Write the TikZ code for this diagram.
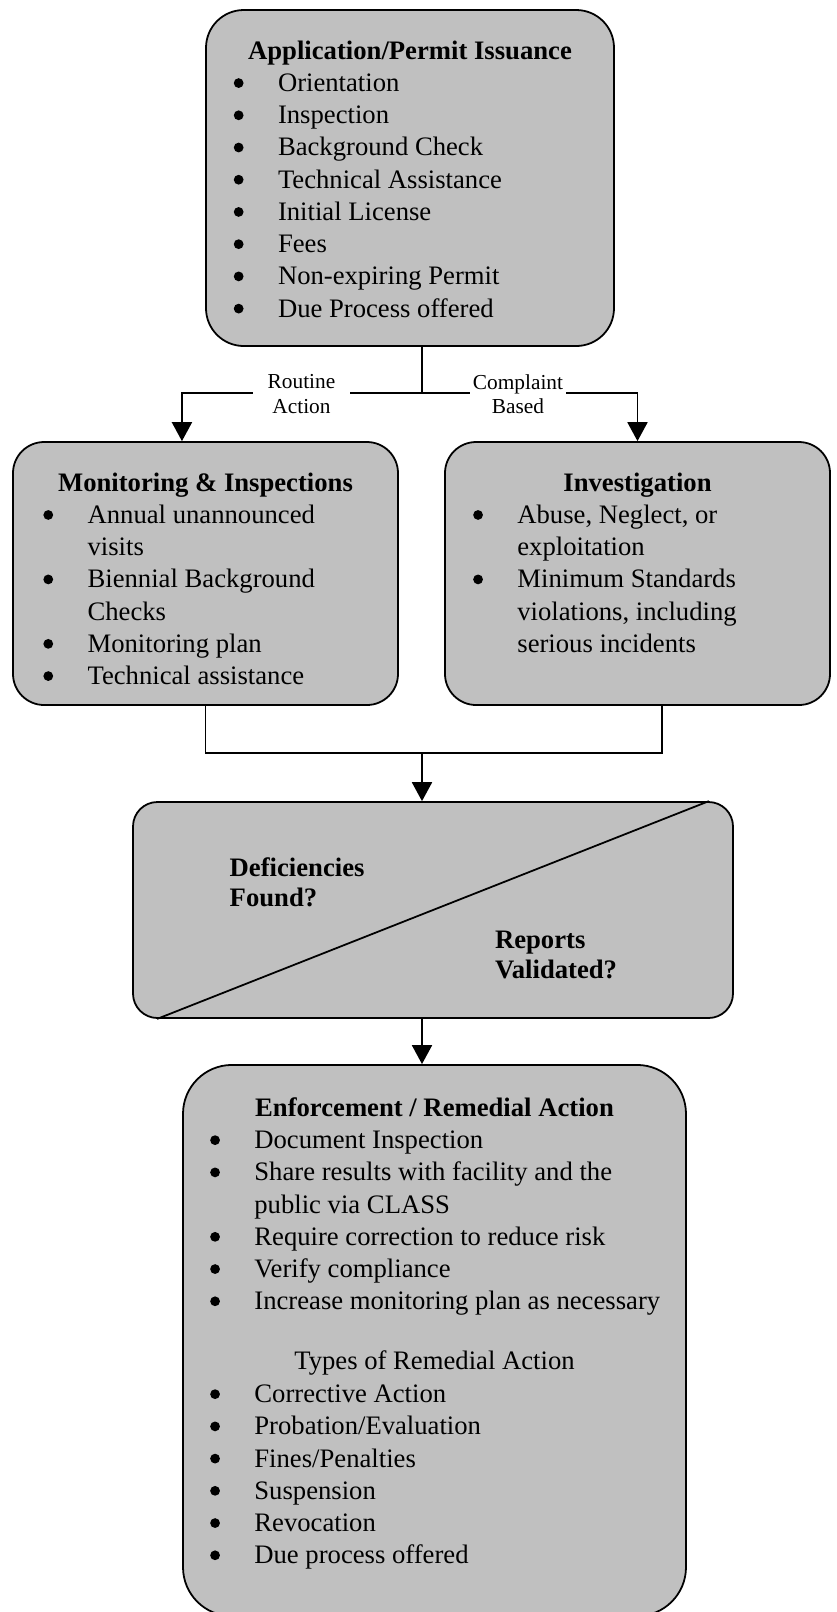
\documentclass[tikz,border=0pt]{standalone}
\usepackage{fontspec}
\setmainfont{Liberation Serif}
\usepackage{tikz}
\usetikzlibrary{positioning, arrows.meta}

\definecolor{boxgray}{RGB}{192,192,192}
\newcommand{\bodysize}{\fontsize{12}{14.5}\selectfont}
\newcommand{\bdot}{\tikz[baseline=-3.8pt]\fill (0,0) circle[radius=2.2pt];}
\newcommand{\checklist}[1]{\begin{tabular}[t]{@{}p{20.5pt}@{}l@{}}#1\end{tabular}}
\newcommand{\bul}{\hspace*{0.6pt}\bdot &}

\begin{document}
\begin{tikzpicture}[
					x=0.45pt, y=-0.45pt,
					box/.style={draw, fill=boxgray, line width=0.8pt, inner sep=0pt},
					head/.style={font=\bodysize\bfseries, anchor=base, inner sep=0pt},
					items/.style={font=\bodysize, anchor=base west, inner sep=0pt},
					tag/.style={fill=white, font=\fontsize{9.6}{11}\selectfont, align=center, minimum width=43.6pt, inner sep=1pt},
					link/.style={line width=0.8pt},
					arr/.style={-{Triangle[length=8.5pt,width=9pt]}}
					]
					\useasboundingbox (0,0) rectangle (837,1612);
					% boxes
					\node[box, rounded corners=17pt, minimum width=183.6pt, minimum height=151.2pt] (app) at (410,178) {};
					\node[box, rounded corners=14pt, minimum width=173.25pt, minimum height=118.35pt] (mon) at (205.5,573.5) {};
					\node[box, rounded corners=14pt, minimum width=173.25pt, minimum height=118.35pt] (inv) at (637.5,573.5) {};
					\node[box, rounded corners=11pt, minimum width=270pt, minimum height=97.2pt] (dec) at (433,910) {};
					\node[box, rounded corners=22pt, minimum width=226.35pt, minimum height=248pt] (enf) at (434.5,1340.5) {};
					% texts
					\node[head] (apphead) at (410,59.6) {Application/Permit Issuance};
					\node[items] (applist) at (232,91.5) {\checklist{
						\bul Orientation\\
						\bul Inspection\\
						\bul Background Check\\
						\bul Technical Assistance\\
						\bul Initial License\\
						\bul Fees\\
						\bul Non-expiring Permit\\
						\bul Due Process offered}};
					\node[head] (monhead) at (205.5,491.5) {Monitoring \& Inspections};
					\node[items] (monlist) at (41.6,523.4) {\checklist{
						\bul Annual unannounced\\
						& visits\\
						\bul Biennial Background\\
						& Checks\\
						\bul Monitoring plan\\
						\bul Technical assistance}};
					\node[head] (invhead) at (637.5,491.5) {Investigation};
					\node[items] (invlist) at (471.4,523.4) {\checklist{
						\bul Abuse, Neglect, or\\
						& exploitation\\
						\bul Minimum Standards\\
						& violations, including\\
						& serious incidents}};
					\node[items, font=\fontsize{12}{13.5}\selectfont\bfseries] (defq) at (229.3,876) {\begin{tabular}[t]{@{}l@{}}Deficiencies\\Found?\end{tabular}};
					\node[items, font=\fontsize{12}{13.5}\selectfont\bfseries] (repq) at (494.6,948) {\begin{tabular}[t]{@{}l@{}}Reports\\Validated?\end{tabular}};
					\node[head] (enfhead) at (434.5,1116.7) {Enforcement / Remedial Action};
					\node[items] (enflist) at (208.4,1148.6) {\checklist{
						\bul Document Inspection\\
						\bul Share results with facility and the\\
						& public via CLASS\\
						\bul Require correction to reduce risk\\
						\bul Verify compliance\\
						\bul Increase monitoring plan as necessary}};
					\node[head, font=\bodysize] (typehead) at (434.5,1369.6) {Types of Remedial Action};
					\node[items] (typelist) at (208.4,1402.6) {\checklist{
						\bul Corrective Action\\
						\bul Probation/Evaluation\\
						\bul Fines/Penalties\\
						\bul Suspension\\
						\bul Revocation\\
						\bul Due process offered}};
					% connectors
					\coordinate (split) at (422,393);
					\coordinate (merge) at (422,753);
					\draw[link] ([xshift=11.25pt]dec.south west) -- ([xshift=-11.25pt]dec.north east);
					\draw[link] (app.south -| split) -- (split);
					\draw[link, arr] (split) -| ([xshift=-10.6pt]mon.north);
					\draw[link, arr] (split) -| (inv.north);
					\node[tag] (routine) at (301.5,394) {Routine\\Action};
					\node[tag] (complaint) at (518,394) {Complaint\\Based};
					\draw[link] (mon.south) |- (merge) -| ([xshift=11pt]inv.south);
					\draw[link, arr] (merge) -- (merge |- dec.north);
					\draw[link, arr] (dec.south -| merge) -- (enf.north -| merge);
				\end{tikzpicture}
\end{document}
